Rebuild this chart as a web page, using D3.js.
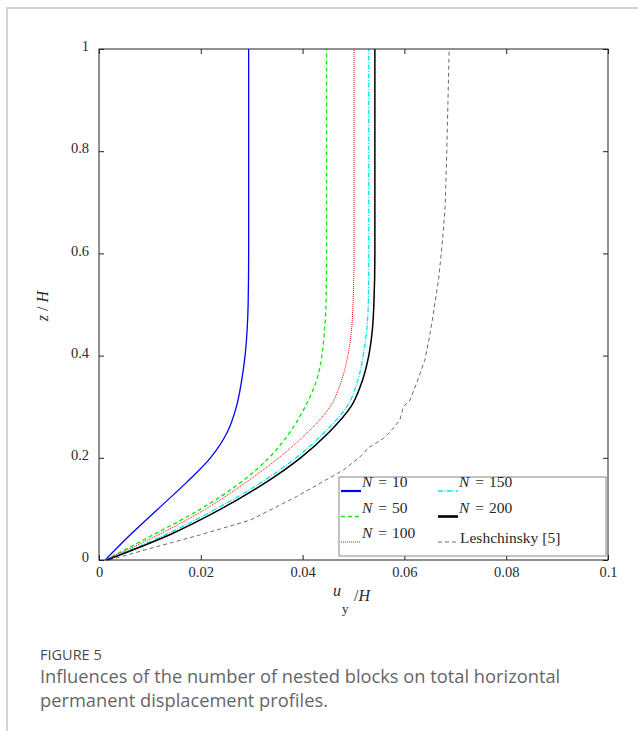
<!DOCTYPE html>
<html lang="en">
<head>
    <meta charset="UTF-8">
    <script src="https://d3js.org/d3.v7.min.js"></script>
    <title>Figure 5</title>
    <style>
        body { margin: 0; padding: 0; background: white; }
        svg { display: block; }
        .tick line { stroke: #222; }
    </style>
</head>
<body>
    <svg id="chart" width="638" height="731"></svg>
    <script>
        // z/H levels and u_y/H values
        const zN = [0, 0.05, 0.1, 0.15, 0.2, 0.25, 0.3, 0.35, 0.4, 0.45, 0.5, 0.6, 1];
        const uN10  = [0.0012, 0.0062, 0.0116, 0.0170, 0.0219, 0.0252, 0.0270, 0.0280, 0.0287, 0.0291, 0.0293, 0.0294, 0.0294];
        const uN50  = [0.0012, 0.0108, 0.0200, 0.0276, 0.0334, 0.0375, 0.0405, 0.0427, 0.0438, 0.0443, 0.0446, 0.0447, 0.0447];
        const uN100 = [0.0012, 0.0118, 0.0210, 0.0286, 0.0353, 0.0410, 0.0454, 0.0476, 0.0489, 0.0496, 0.0499, 0.0501, 0.0501];
        const uN150 = [0.0012, 0.0132, 0.0230, 0.0316, 0.0387, 0.0443, 0.0487, 0.0508, 0.0519, 0.0526, 0.0529, 0.0530, 0.0530];
        const uN200 = [0.0015, 0.0140, 0.0240, 0.0325, 0.0396, 0.0452, 0.0495, 0.0517, 0.0530, 0.0537, 0.0540, 0.0542, 0.0542];

        const zLesh = [0, 0.026, 0.049, 0.078, 0.124, 0.176, 0.202, 0.22, 0.238, 0.254, 0.274, 0.3, 0.313, 0.346, 0.391, 0.43, 0.464, 0.548, 0.626, 0.691, 0.789, 1];
        const uLesh = [0.002, 0.0113, 0.0198, 0.0297, 0.0388, 0.048, 0.0513, 0.053, 0.0559, 0.0575, 0.0591, 0.0598, 0.0611, 0.0624, 0.064, 0.0648, 0.0654, 0.0667, 0.0675, 0.068, 0.0683, 0.0688];

        const xTicks = [0, 0.02, 0.04, 0.06, 0.08, 0.1];
        const xTickLabels = ["0", "0.02", "0.04", "0.06", "0.08", "0.1"];
        const yTicks = [0, 0.2, 0.4, 0.6, 0.8, 1];
        const yTickLabels = ["0", "0.2", "0.4", "0.6", "0.8", "1"];

        const series = [
            { name: "10",  z: zN, u: uN10,  color: "#0000ff", width: 1.3, dash: null,          legendWidth: 2.2 },
            { name: "50",  z: zN, u: uN50,  color: "#00ee00", width: 1.3, dash: "4,3",         legendWidth: 1.3 },
            { name: "100", z: zN, u: uN100, color: "#ff0000", width: 1,   dash: "1,1",         legendWidth: 1 },
            { name: "150", z: zN, u: uN150, color: "#00e5ee", width: 1.3, dash: "5,1.5,1,1.5", legendWidth: 1.3 },
            { name: "200", z: zN, u: uN200, color: "#000000", width: 1.5, dash: null,          legendWidth: 2.6 },
            { name: "Leshchinsky [5]", z: zLesh, u: uLesh, color: "#444", width: 0.8, dash: "4,3", legendWidth: 0.8, lesh: true }
        ];

        const svg = d3.select("#chart");
        const serif = '"Liberation Serif", "Times New Roman", serif';

        // outer page frame
        svg.append("path")
            .attr("d", "M7,731 L7,8 L638,8")
            .attr("fill", "none")
            .attr("stroke", "#c8c8c8")
            .attr("stroke-width", 1.5);

        const x = d3.scaleLinear().domain([0, 0.1]).range([99, 608]);
        const y = d3.scaleLinear().domain([0, 1]).range([560, 49]);

        const fmtX = d => xTickLabels[xTicks.indexOf(d)];
        const fmtY = d => yTickLabels[yTicks.indexOf(d)];

        // bottom and left axes with labels
        const gx = svg.append("g").attr("transform", "translate(0,560)")
            .call(d3.axisBottom(x).tickValues(xTicks).tickFormat(fmtX).tickSizeInner(-5).tickSizeOuter(0).tickPadding(7));
        const gy = svg.append("g").attr("transform", "translate(99,0)")
            .call(d3.axisLeft(y).tickValues(yTicks).tickFormat(fmtY).tickSizeInner(-5).tickSizeOuter(0).tickPadding(10));
        gy.selectAll(".tick text").attr("y", -3);
        [gx, gy].forEach(g => g.selectAll(".tick text")
            .attr("font-family", serif)
            .attr("font-size", 14.5)
            .attr("fill", "#2a2a2a"));
        // mirrored ticks
        const gt = svg.append("g").attr("transform", "translate(0,49)")
            .call(d3.axisTop(x).tickValues(xTicks).tickFormat("").tickSizeInner(-5).tickSizeOuter(0));
        const gr = svg.append("g").attr("transform", "translate(608,0)")
            .call(d3.axisRight(y).tickValues(yTicks).tickFormat("").tickSizeInner(-5).tickSizeOuter(0));
        [gx, gy, gt, gr].forEach(g => g.select(".domain").remove());

        // curves
        const plot = svg.append("g");
        series.forEach(s => {
            const pts = s.z.map((z, i) => [s.u[i], z]);
            const line = d3.line()
                .x(d => x(d[0]))
                .y(d => y(d[1]))
                .curve(s.lesh ? d3.curveLinear : d3.curveMonotoneY);
            plot.append("path")
                .datum(pts)
                .attr("d", line)
                .attr("fill", "none")
                .attr("stroke", s.color)
                .attr("stroke-width", s.width)
                .attr("stroke-dasharray", s.dash);
        });

        // plot box
        svg.append("rect")
            .attr("x", 99).attr("y", 49)
            .attr("width", 509).attr("height", 511)
            .attr("fill", "none")
            .attr("stroke", "#222")
            .attr("stroke-width", 1);

        // legend
        const lg = svg.append("g");
        lg.append("rect")
            .attr("x", 339).attr("y", 477)
            .attr("width", 267).attr("height", 79)
            .attr("fill", "white")
            .attr("stroke", "#888")
            .attr("stroke-width", 1);
        series.forEach((s, i) => {
            const col = Math.floor(i / 3), row = i % 3;
            const lx = col === 0 ? 341 : 438;
            const ly = 491 + row * 25.5;
            lg.append("line")
                .attr("x1", lx).attr("x2", lx + 20)
                .attr("y1", ly).attr("y2", ly)
                .attr("stroke", s.color)
                .attr("stroke-width", s.legendWidth)
                .attr("stroke-dasharray", s.dash);
            const t = lg.append("text")
                .attr("x", lx + (s.lesh ? 22 : 21))
                .attr("y", s.lesh ? ly + 1 : ly - 4)
                .attr("font-family", serif)
                .attr("font-size", 15.5)
                .attr("fill", "#2a2a2a");
            if (s.lesh) {
                t.text(s.name);
            } else {
                t.append("tspan").attr("font-style", "italic").text("N");
                t.append("tspan").attr("dx", 6).text("=");
                t.append("tspan").attr("dx", 5).text(s.name);
            }
        });

        // axis titles
        const yl = svg.append("text")
            .attr("transform", "translate(48,306) rotate(-90)")
            .attr("text-anchor", "middle")
            .attr("font-family", serif)
            .attr("font-size", 16)
            .attr("fill", "#2a2a2a");
        yl.append("tspan").attr("font-style", "italic").text("z");
        yl.append("tspan").attr("dx", 4).text("/");
        yl.append("tspan").attr("dx", 4).attr("font-style", "italic").text("H");

        svg.append("text")
            .attr("x", 333).attr("y", 596)
            .attr("font-family", serif).attr("font-size", 16).attr("font-style", "italic")
            .attr("fill", "#2a2a2a").text("u");
        const xl = svg.append("text")
            .attr("x", 354).attr("y", 601)
            .attr("font-family", serif).attr("font-size", 16)
            .attr("fill", "#2a2a2a");
        xl.append("tspan").text("/");
        xl.append("tspan").attr("font-style", "italic").text("H");
        svg.append("text")
            .attr("x", 342).attr("y", 613)
            .attr("font-family", serif).attr("font-size", 13)
            .attr("fill", "#2a2a2a").text("y");

        // caption
        svg.append("text")
            .attr("x", 40).attr("y", 660)
            .attr("font-family", '"Open Sans", sans-serif')
            .attr("font-size", 14.5)
            .attr("fill", "#4a4a4a")
            .text("FIGURE 5");
        const capLines = ["Influences of the number of nested blocks on total horizontal",
                          "permanent displacement profiles."];
        capLines.forEach((c, i) => {
            svg.append("text")
                .attr("x", 40).attr("y", 683 + i * 24)
                .attr("font-family", '"Open Sans", sans-serif')
                .attr("font-size", 18.3)
                .attr("fill", "#666")
                .text(c);
        });
    </script>
</body>
</html>
